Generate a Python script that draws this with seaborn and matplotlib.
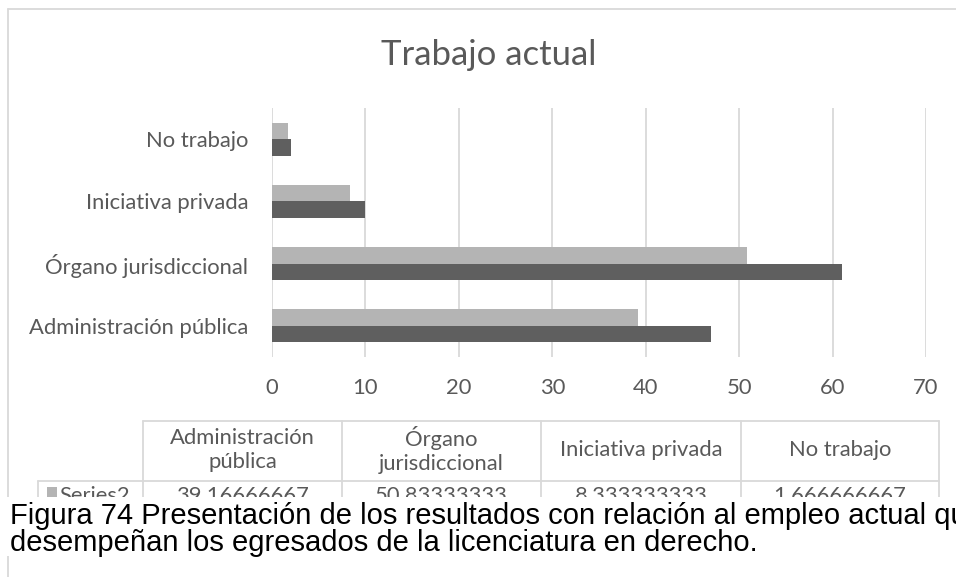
import matplotlib
matplotlib.use("Agg")
import matplotlib.pyplot as plt
from matplotlib.patches import Rectangle
from matplotlib.lines import Line2D
import pandas as pd
import seaborn as sns

# Survey results: current job of law graduates
categories = ["Administración pública", "Órgano jurisdiccional", "Iniciativa privada", "No trabajo"]
series1 = [47, 61, 10, 2]
series2 = [39.16666667, 50.83333333, 8.333333333, 1.666666667]
series_names = ["Series1", "Series2"]
x_ticks = [0, 10, 20, 30, 40, 50, 60, 70]
title = "Trabajo actual"
header_labels = ["Administración\npública", "Órgano\njurisdiccional", "Iniciativa privada", "No trabajo"]
caption_lines = [
    "Figura 74 Presentación de los resultados con relación al empleo actual que",
    "desempeñan los egresados de la licenciatura en derecho.",
]

TXT = "#595959"
GRID = "#d9d9d9"
LIGHT = "#b4b4b4"
DARK = "#5f5f5f"
W, H = 956, 577
FONT = "Lato"
FS = 15.8

sns.set_theme(style="white")
plt.rcParams["font.family"] = [FONT, "DejaVu Sans"]

df = pd.DataFrame({
    "categoria": categories * 2,
    "valor": series1 + series2,
    "serie": [series_names[0]] * 4 + [series_names[1]] * 4,
})

fig = plt.figure(figsize=(W / 100, H / 100), dpi=100)
fig.patch.set_facecolor("white")


def fx(px):
    return px / W


def fy(py):
    return 1 - py / H


left, right, top, bottom = 272, 926, 108, 357
ax = fig.add_axes([fx(left), fy(bottom), fx(right - left), (bottom - top) / H])

order = categories[::-1]
sns.barplot(data=df, y="categoria", x="valor", hue="serie", order=order,
            hue_order=["Series2", "Series1"], palette=[LIGHT, DARK],
            orient="h", width=0.53, gap=0, ax=ax, legend=False,
            saturation=1, linewidth=0, errorbar=None)

ax.set_xlim(0, 70)
ax.set_xticks(x_ticks)
ax.set_xticklabels([str(t) for t in x_ticks])
ax.set_xlabel("")
ax.set_ylabel("")
for s in ax.spines.values():
    s.set_visible(False)
ax.grid(False)
for t in x_ticks:
    ax.axvline(t, color=GRID, lw=1.3, zorder=0)
ax.tick_params(axis="both", length=0, labelsize=FS, colors=TXT)
ax.tick_params(axis="y", pad=17)
ax.tick_params(axis="x", pad=15)

# Chart frame
fig.add_artist(Line2D([fx(8), fx(8)], [fy(9), fy(577)], color=GRID, lw=1.3))
fig.add_artist(Line2D([fx(8), fx(956)], [fy(9), fy(9)], color=GRID, lw=1.3))

fig.text(fx(489), fy(55), title, ha="center", va="center", fontsize=25, color=TXT)

# Data table
cols = [143, 342, 541, 741, 939]
row_top, row_mid, row_bot = 421, 481, 520
fig.add_artist(Line2D([fx(cols[0]), fx(cols[-1])], [fy(row_top), fy(row_top)], color=GRID, lw=1.3))
fig.add_artist(Line2D([fx(38), fx(cols[-1])], [fy(row_mid), fy(row_mid)], color=GRID, lw=1.3))
for c in cols:
    fig.add_artist(Line2D([fx(c), fx(c)], [fy(row_top), fy(row_bot)], color=GRID, lw=1.3))
fig.add_artist(Line2D([fx(38), fx(38)], [fy(row_mid), fy(row_bot)], color=GRID, lw=1.3))
for i, lab in enumerate(header_labels):
    fig.text(fx((cols[i] + cols[i + 1]) / 2), fy(450), lab, ha="center", va="center",
             fontsize=FS, color=TXT, linespacing=1.3)
    fig.text(fx((cols[i] + cols[i + 1]) / 2), fy(496), f"{series2[i]:.10g}", ha="center",
             va="center", fontsize=FS, color=TXT)
fig.add_artist(Rectangle((fx(47), fy(497)), fx(10), 10 / H, color=LIGHT, lw=0))
fig.text(fx(59), fy(496), "Series2", ha="left", va="center", fontsize=FS, color=TXT)

# Caption block sits over the lower part of the chart
fig.add_artist(Rectangle((0, fy(556)), 1, (556 - 497) / H, facecolor="white", lw=0, zorder=5))
fig.text(fx(10), fy(524), caption_lines[0], ha="left", va="baseline", fontsize=21,
         color="black", family=["Liberation Sans", "DejaVu Sans"], zorder=6)
fig.text(fx(10), fy(551), caption_lines[1], ha="left", va="baseline", fontsize=21,
         color="black", family=["Liberation Sans", "DejaVu Sans"], zorder=6)

fig.savefig("out.png", dpi=100)
